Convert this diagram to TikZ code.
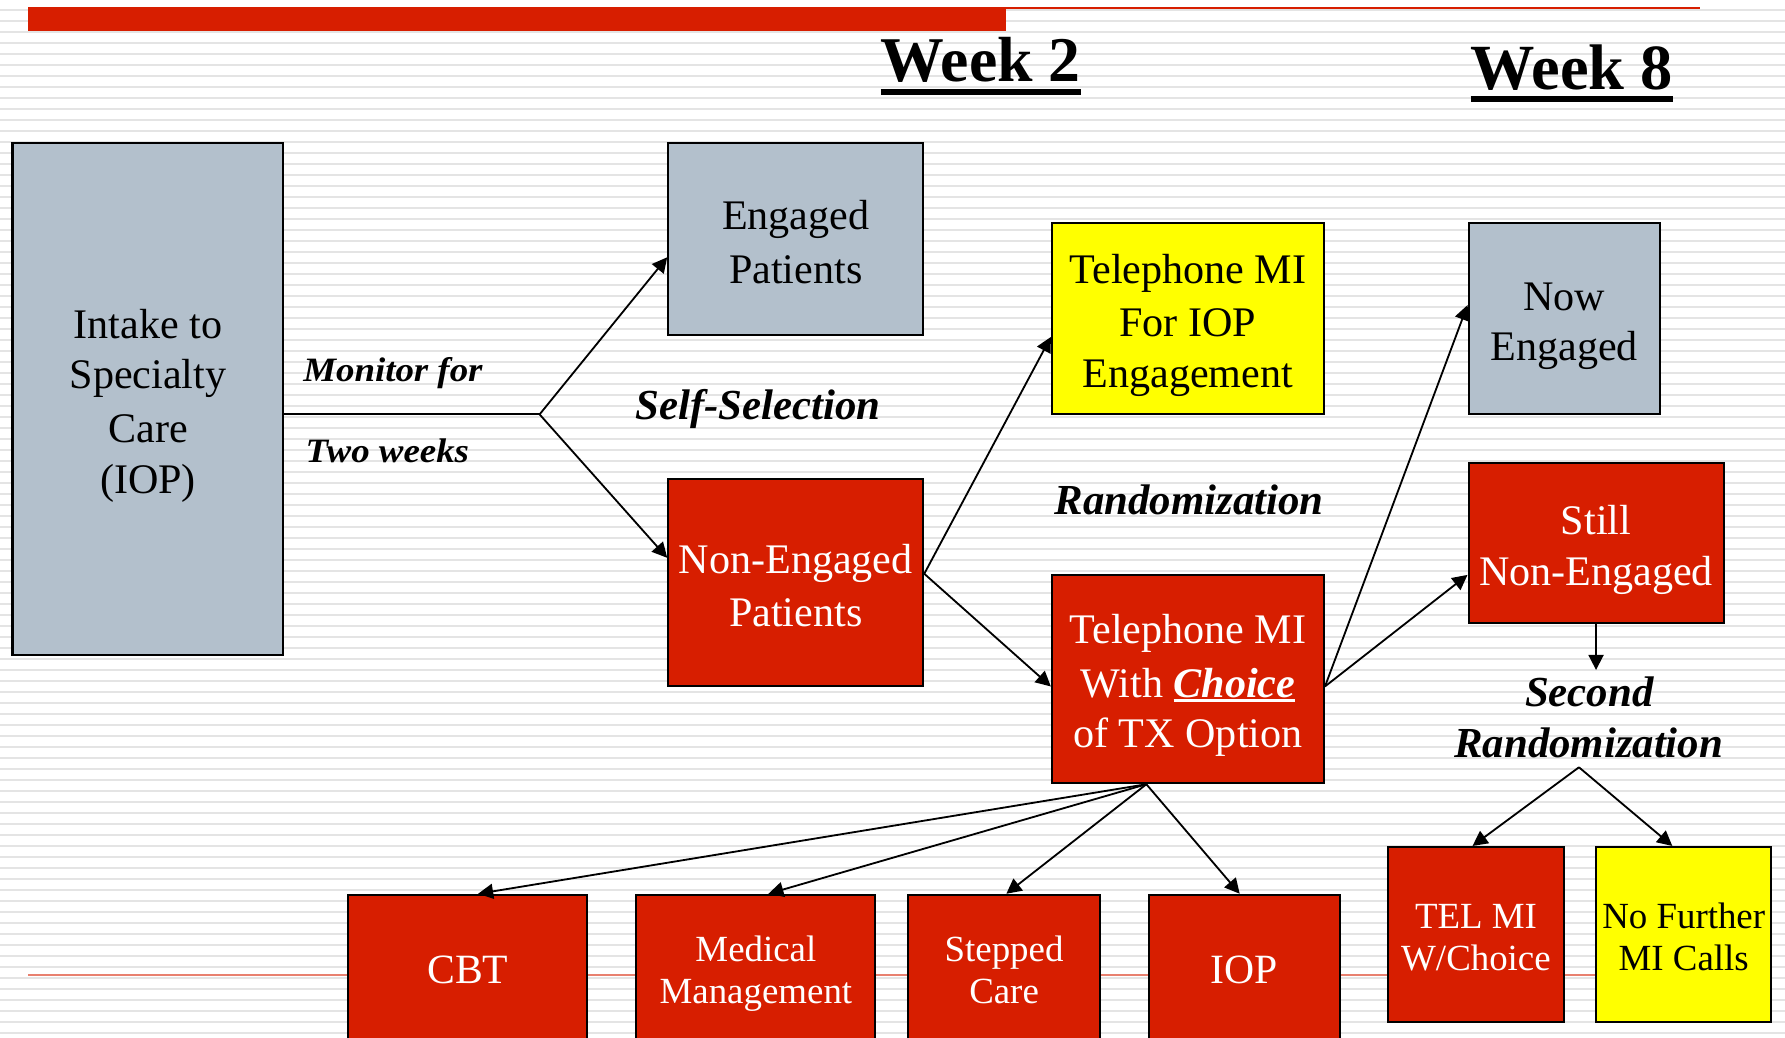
\documentclass[tikz,border=0pt]{standalone}
\usepackage{fontspec}
\setmainfont{Liberation Serif}
\newfontfamily\labfont{Liberation Serif}[FakeStretch=1.08]
\usetikzlibrary{arrows.meta,calc}
\definecolor{boxred}{HTML}{D71E00}
\definecolor{boxgray}{HTML}{B3C0CC}
\definecolor{boxyel}{HTML}{FFFF00}
\definecolor{stripecol}{HTML}{E4E4E4}
\definecolor{lightred}{HTML}{E8806F}
\newcommand\thickul[3]{\setbox0\hbox{#3}\rlap{\rule[-#1]{\wd0}{#2}}\box0}
% line struts
\newcommand\sA{\rule[-3.6pt]{0pt}{22.2pt}}
\newcommand\sB{\rule[-2.65pt]{0pt}{18.4pt}}
\newcommand\sC{\rule[-5pt]{0pt}{22.1pt}}
\newcommand\sD{\rule[-3.85pt]{0pt}{18.4pt}}
\begin{document}
\begin{tikzpicture}[x=0.5pt,y=-0.5pt,
  box/.style={draw=black, line width=0.9pt, inner sep=0pt, align=center},
  bigtxt/.style={font=\fontsize{18.5}{22.3}\selectfont},
  smalltxt/.style={font=\fontsize{16.2}{18.5}\selectfont},
  graybox/.style={box, fill=boxgray, text=black},
  redbox/.style={box, fill=boxred, text=white},
  yelbox/.style={box, fill=boxyel, text=black},
  arr/.style={-{Triangle[length=6.6pt,width=6.6pt]}, line width=0.8pt},
  plain/.style={line width=0.8pt},
  head/.style={inner sep=0pt, font=\bfseries},
  lab/.style={inner sep=0pt, font=\labfont\bfseries\itshape\fontsize{15}{18}\selectfont},
  labbig/.style={inner sep=0pt, font=\bfseries\itshape\fontsize{18.8}{22}\selectfont}]
\useasboundingbox (0,0) rectangle (1568,911);
\clip (0,0) rectangle (1568,911);
% background stripes
\foreach \k in {0,...,94} \draw[stripecol, line width=0.9pt] (0,{8.78+9.663*\k}) -- (1568,{8.78+9.663*\k});
% top red bar and lines
\fill[boxred] (24.5,6.2) rectangle (884,27.2);
\draw[boxred, line width=1pt] (884,6.9) -- (1493,6.9);
\draw[lightred, line width=0.9pt] (25,856.5) -- (1493,856.5);
% headings
\node[head, anchor=base] (w2) at (861.5,71.7) {\fontsize{28}{32}\selectfont\thickul{5.75pt}{2.35pt}{Week 2}};
\node[head, anchor=base] (w8) at (1380.7,78.5) {\fontsize{28.3}{32}\selectfont\thickul{5.4pt}{2.5pt}{Week 8}};
% boxes
\node[graybox, bigtxt, minimum width=119pt, minimum height=224.5pt] (intake) at (130,350.5) {\sA Intake to\\\sA Specialty\\\sA Care\\\sA (IOP)};
\node[graybox, bigtxt, minimum width=112pt, minimum height=84pt] (engaged) at (699,210) {\sA Engaged\\\sA Patients};
\node[redbox, bigtxt, minimum width=112pt, minimum height=91pt] (noneng) at (699,512) {\sA Non-Engaged\\\sA Patients};
\node[yelbox, bigtxt, minimum width=119.5pt, minimum height=84pt] (telIOP) at (1043.5,280) {\sA Telephone MI\\\sA For IOP\\\sA Engagement};
\node[redbox, bigtxt, minimum width=119.5pt, minimum height=91.5pt] (telCh) at (1043.5,596.5) {\sA Telephone MI\\\sA With \thickul{2pt}{1pt}{\textbf{\textit{Choice}}}\\\sA of TX Option};
\node[graybox, bigtxt, minimum width=84pt, minimum height=84pt] (nowEng) at (1374,280) {\sA Now\\\sA Engaged};
\node[redbox, bigtxt, minimum width=112pt, minimum height=70pt] (stillNE) at (1402,477) {\sA Still\\\sA Non-Engaged};
\node[redbox, smalltxt, minimum width=77.5pt, minimum height=77pt] (telmi) at (1296.5,821) {\sB TEL MI\\\sB W/Choice};
\node[yelbox, smalltxt, minimum width=77pt, minimum height=77pt] (nofurther) at (1479,821) {\sB No Further\\\sB MI Calls};
\node[redbox, font=\fontsize{18.3}{22.3}\selectfont, minimum width=105pt, minimum height=66pt] (cbt) at (411,852) {\sC CBT};
\node[redbox, smalltxt, minimum width=105pt, minimum height=66pt] (medical) at (664,852) {\sD Medical\\\sD Management};
\node[redbox, smalltxt, minimum width=84pt, minimum height=66pt] (stepped) at (882,852) {\sD Stepped\\\sD Care};
\node[redbox, font=\fontsize{18.3}{22.3}\selectfont, minimum width=84pt, minimum height=66pt] (iop) at (1093,852) {\sC IOP};
% labels
\node[lab, anchor=base west] (mon) at (266,335.3) {Monitor for};
\node[lab, anchor=base west] (two) at (268,406.5) {Two weeks};
\node[labbig, anchor=base west] (self) at (558,368.4) {Self-Selection};
\node[labbig, anchor=base] (rand1) at (1044.5,452) {Randomization};
\node[labbig, anchor=base] (sec) at (1396,620.8) {Second};
\node[labbig, anchor=base] (rand2) at (1395.5,665.5) {Randomization};
% connectors
\coordinate (j1) at (474,364);
\draw[plain] (intake.east |- j1) -- (j1);
\draw[arr] (j1) -- ($(engaged.west)+(0,16)$);
\draw[arr] (j1) -- ($(noneng.west)+(0,-22)$);
\coordinate (ne) at ($(noneng.east)+(0,-8)$);
\draw[arr] (ne) -- ($(telIOP.west)+(0,16)$);
\draw[arr] (ne) -- ($(telCh.west)+(0,6.5)$);
\coordinate (tc) at ($(telCh.east)+(0,6.5)$);
\draw[arr] (tc) -- ($(nowEng.west)+(0,-12)$);
\draw[arr] (tc) -- ($(stillNE.west)+(0,28)$);
\coordinate (sn) at (1402,588.5);
\draw[arr] (stillNE.south) -- (sn);
\coordinate (sr) at (1387,674);
\draw[arr] (sr) -- ($(telmi.north)+(-3,0)$);
\draw[arr] (sr) -- ($(nofurther.north)+(-10,0)$);
\coordinate (tb) at ($(telCh.south)+(-36.5,0)$);
\draw[arr] (tb) -- ($(cbt.north)+(9,0)$);
\draw[arr] (tb) -- ($(medical.north)+(11,0)$);
\draw[arr] (tb) -- ($(stepped.north)+(2,0)$);
\draw[arr] (tb) -- ($(iop.north)+(-4,0)$);
\end{tikzpicture}
\end{document}
